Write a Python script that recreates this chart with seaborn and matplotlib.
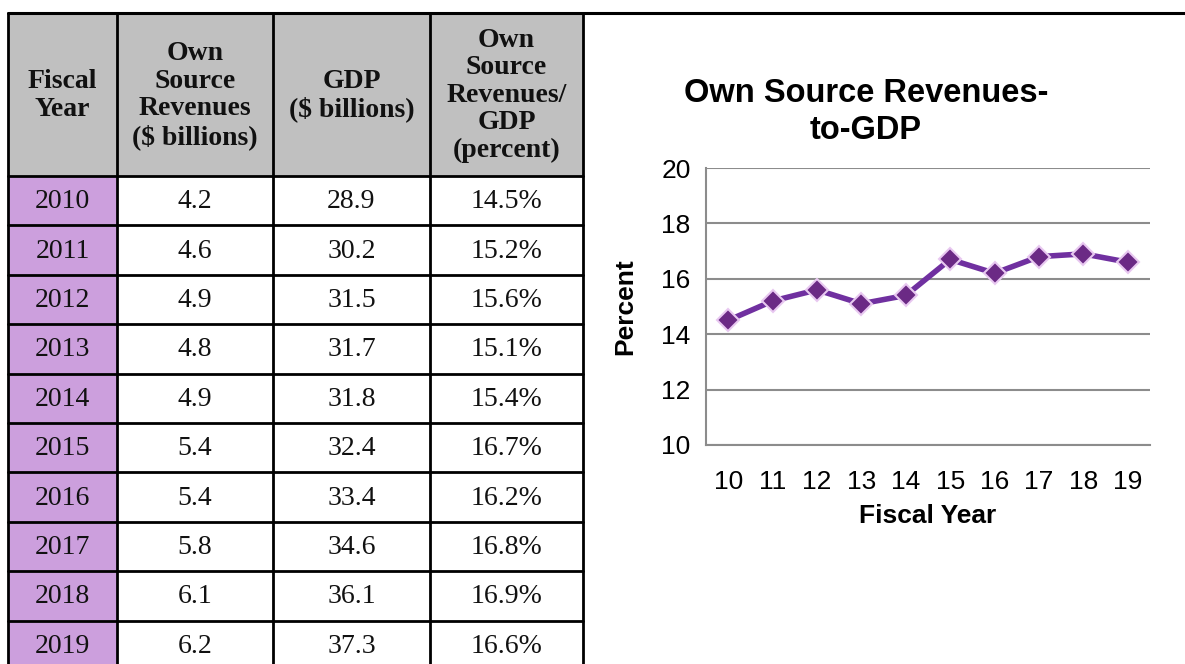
import matplotlib
matplotlib.use("Agg")
import matplotlib.pyplot as plt
from matplotlib.patches import Rectangle
import seaborn as sns
import pandas as pd

# ---- data ----
fiscal_years = ["2010", "2011", "2012", "2013", "2014", "2015", "2016", "2017", "2018", "2019"]
own_source_revenues = ["4.2", "4.6", "4.9", "4.8", "4.9", "5.4", "5.4", "5.8", "6.1", "6.2"]
gdp = ["28.9", "30.2", "31.5", "31.7", "31.8", "32.4", "33.4", "34.6", "36.1", "37.3"]
ratio_pct = [14.5, 15.2, 15.6, 15.1, 15.4, 16.7, 16.2, 16.8, 16.9, 16.6]
x_labels = ["10", "11", "12", "13", "14", "15", "16", "17", "18", "19"]
headers = ["Fiscal\nYear", "Own\nSource\nRevenues\n($ billions)", "GDP\n($ billions)",
           "Own\nSource\nRevenues/\nGDP\n(percent)"]
y_ticks = [10, 12, 14, 16, 18, 20]

W, H = 1185, 664
sns.set_theme(style="white")
plt.rcParams["font.family"] = ["Liberation Sans", "DejaVu Sans"]
plt.rcParams["text.color"] = "black"
plt.rcParams["axes.labelcolor"] = "black"

fig = plt.figure(figsize=(W / 100, H / 100), dpi=100)

# ---- table (pixel layout) ----
tax = fig.add_axes([0, 0, 1, 1])
tax.set_xlim(0, W)
tax.set_ylim(H, 0)
tax.axis("off")

col_edges = [8, 117, 273, 430, 583]
top_y = 13
header_bottom = 176
row_h = 49.4
serif = ["Liberation Serif", "DejaVu Serif"]

for i in range(4):
    tax.add_patch(Rectangle((col_edges[i], top_y), col_edges[i + 1] - col_edges[i],
                            header_bottom - top_y, facecolor="#C0C0C0", edgecolor="none"))
    tax.text((col_edges[i] + col_edges[i + 1]) / 2, (top_y + header_bottom) / 2 + 1,
             headers[i], ha="center", va="center", fontsize=20, fontweight="bold",
             family=serif, linespacing=1.13, color="#111111")

for r, yr in enumerate(fiscal_years):
    y0 = header_bottom + r * row_h
    tax.add_patch(Rectangle((col_edges[0], y0), col_edges[1] - col_edges[0], row_h,
                            facecolor="#CC9FDD", edgecolor="none"))
    vals = [yr, own_source_revenues[r], gdp[r], f"{ratio_pct[r]:.1f}%"]
    for c, v in enumerate(vals):
        tax.text((col_edges[c] + col_edges[c + 1]) / 2, y0 + row_h / 2 + 1, v,
                 ha="center", va="center", fontsize=20, family=serif, color="#111111")
    tax.plot([col_edges[0], col_edges[-1]], [y0, y0], color="black", lw=2)

# top line spans full width
tax.plot([col_edges[0], W], [top_y, top_y], color="black", lw=2.2)
bottom_y = header_bottom + len(fiscal_years) * row_h
for x in col_edges:
    tax.plot([x, x], [top_y, bottom_y], color="black", lw=2)

# ---- chart ----
ax = fig.add_axes([706 / W, (H - 445) / H, 444 / W, 277 / H])
df = pd.DataFrame({"year": x_labels, "pct": ratio_pct})
sns.lineplot(data=df, x="year", y="pct", ax=ax, color="#7030A0", lw=4,
             marker="D", markersize=11, markerfacecolor="#6B2A85",
             markeredgecolor="#E8C8F0", markeredgewidth=1.5, sort=False)
ax.set_xlim(-0.5, len(x_labels) - 0.5)
ax.set_ylim(10, 20)
ax.set_yticks(y_ticks)
ax.yaxis.grid(True, color="#8C8C8C", lw=1.5)
ax.xaxis.grid(False)
for s in ["top", "right"]:
    ax.spines[s].set_visible(False)
for s in ["left", "bottom"]:
    ax.spines[s].set_color("#8C8C8C")
    ax.spines[s].set_linewidth(1.5)
ax.tick_params(axis="both", length=0, labelsize=19, colors="black")
ax.tick_params(axis="x", pad=18)
ax.tick_params(axis="y", pad=11)
ax.set_xlabel("Fiscal Year", fontsize=19, fontweight="bold", labelpad=7, color="black")
ax.set_ylabel("Percent", fontsize=19, fontweight="bold", labelpad=17, color="black")
fig.text(866 / W, 1 - 112 / H, "Own Source Revenues-\nto-GDP", ha="center", va="center",
         fontsize=23.5, fontweight="bold", linespacing=1.22, color="black")

fig.savefig("out.png", dpi=100)
